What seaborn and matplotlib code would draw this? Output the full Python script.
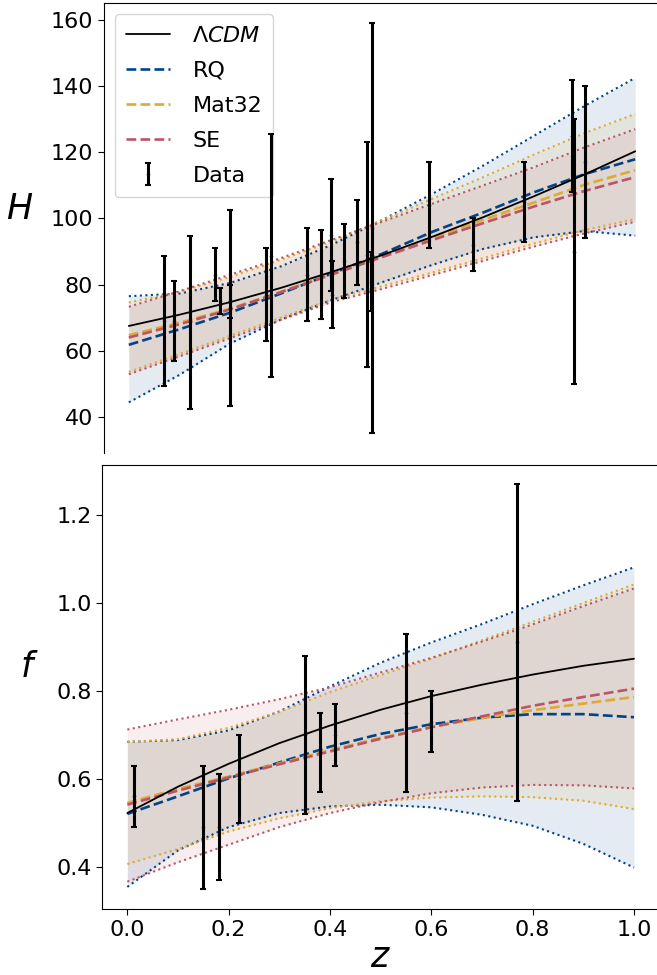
import numpy as np
import pandas as pd
import matplotlib
matplotlib.use("Agg")
import matplotlib.pyplot as plt
import seaborn as sns

sns.set_style("ticks")
plt.rcParams["font.family"] = ["DejaVu Sans"]
plt.rcParams["mathtext.fontset"] = "dejavusans"
for k in ["text.color", "axes.labelcolor", "xtick.color", "ytick.color", "axes.edgecolor"]:
    plt.rcParams[k] = "black"

# ---------------- data ----------------
z_grid = [0.0, 0.1, 0.2, 0.3, 0.4, 0.5, 0.6, 0.7, 0.8, 0.9, 1.0]

# H(z) panel
H_lcdm = [67.5, 70.9, 74.7, 79.0, 83.8, 88.9, 94.5, 100.4, 106.7, 113.3, 120.3]
H_rq = [61.8, 66.5, 71.5, 77.3, 83.3, 89.3, 96.0, 101.8, 107.9, 113.4, 117.9]
H_rq_lo = [44.4, 52.7, 62.2, 69.4, 75.3, 80.7, 86.0, 90.8, 94.3, 96.2, 94.8]
H_rq_hi = [76.5, 77.3, 80.5, 85.5, 92.0, 99.5, 107.5, 116.0, 125.0, 134.0, 142.5]
H_m32 = [64.7, 68.5, 72.7, 77.8, 83.2, 88.6, 94.2, 99.6, 104.8, 110.2, 114.6]
H_m32_lo = [53.6, 59.0, 64.5, 70.0, 75.5, 79.5, 83.7, 88.0, 92.4, 96.5, 99.8]
H_m32_hi = [74.6, 77.8, 82.3, 87.5, 93.0, 99.5, 106.0, 112.5, 119.3, 125.8, 131.6]
H_se = [64.0, 68.0, 72.5, 77.7, 83.0, 88.3, 93.5, 98.6, 103.6, 108.3, 112.5]
H_se_lo = [52.9, 58.3, 63.8, 69.3, 74.7, 78.7, 82.9, 87.2, 91.5, 95.5, 99.0]
H_se_hi = [73.3, 78.0, 83.0, 88.0, 93.5, 99.0, 104.5, 110.0, 115.5, 121.5, 127.0]

z_H = [0.07, 0.09, 0.12, 0.17, 0.1791, 0.1993, 0.2, 0.27, 0.28, 0.3519, 0.3802,
       0.4, 0.4004, 0.4247, 0.4497, 0.47, 0.4783, 0.48, 0.5929, 0.6797, 0.7812,
       0.8754, 0.88, 0.9]
H_obs = [69, 69, 68.6, 83, 75, 75, 72.9, 77, 88.8, 83, 83, 95, 77, 87.1, 92.8,
         89, 80.9, 97, 104, 92, 105, 125, 90, 117]
H_err = [19.6, 12, 26.2, 8, 4, 5, 29.6, 14, 36.6, 14, 13.5, 17, 10.2, 11.2, 12.9,
         34, 9, 62, 13, 8, 12, 17, 40, 23]

# f(z) panel
f_lcdm = [0.522, 0.582, 0.634, 0.681, 0.721, 0.757, 0.788, 0.814, 0.837, 0.857, 0.873]
f_rq = [0.520, 0.560, 0.601, 0.637, 0.673, 0.702, 0.724, 0.739, 0.747, 0.747, 0.740]
f_rq_lo = [0.354, 0.437, 0.490, 0.522, 0.537, 0.541, 0.535, 0.518, 0.493, 0.452, 0.398]
f_rq_hi = [0.684, 0.688, 0.710, 0.753, 0.810, 0.864, 0.910, 0.952, 0.997, 1.040, 1.081]
f_m32 = [0.545, 0.577, 0.605, 0.635, 0.665, 0.693, 0.718, 0.738, 0.756, 0.771, 0.786]
f_m32_lo = [0.406, 0.440, 0.480, 0.510, 0.533, 0.549, 0.557, 0.560, 0.558, 0.550, 0.531]
f_m32_hi = [0.684, 0.690, 0.716, 0.752, 0.797, 0.836, 0.873, 0.915, 0.957, 1.000, 1.042]
f_se = [0.541, 0.573, 0.603, 0.633, 0.662, 0.691, 0.717, 0.742, 0.766, 0.786, 0.805]
f_se_lo = [0.366, 0.410, 0.450, 0.490, 0.522, 0.547, 0.567, 0.580, 0.586, 0.585, 0.578]
f_se_hi = [0.712, 0.735, 0.757, 0.781, 0.808, 0.842, 0.875, 0.912, 0.951, 0.993, 1.033]

z_f = [0.013, 0.15, 0.18, 0.22, 0.35, 0.38, 0.41, 0.55, 0.60, 0.77]
f_obs = [0.56, 0.49, 0.49, 0.60, 0.70, 0.66, 0.70, 0.75, 0.73, 0.91]
f_err = [0.07, 0.14, 0.12, 0.10, 0.18, 0.09, 0.07, 0.18, 0.07, 0.36]

# ---------------- style ----------------
c_rq = "#004488"
c_m32 = "#DDAA33"
c_se = "#BB5566"

W, Hh = 657, 975
fig = plt.figure(figsize=(W / 100, Hh / 100), dpi=100)
ax1 = fig.add_axes([103.5 / W, (Hh - 453.3) / Hh, 557 / W, 450 / Hh])
ax2 = fig.add_axes([102 / W, (Hh - 909.3) / Hh, 557.3 / W, 444.6 / Hh])

fs_tick = 16
fs_lab = 25


def draw(ax, lcdm, models, zd, yd, ed, legend):
    sns.lineplot(x=z_grid, y=lcdm, ax=ax, color="black", lw=1.3,
                 label=r"$\Lambda CDM$" if legend else None, zorder=5)
    for name, col, mean, lo, hi in models:
        ax.fill_between(z_grid, lo, hi, color=col, alpha=0.1, lw=0)
        sns.lineplot(x=z_grid, y=lo, ax=ax, color=col, lw=1.5, linestyle=":")
        sns.lineplot(x=z_grid, y=hi, ax=ax, color=col, lw=1.5, linestyle=":")
    for name, col, mean, lo, hi in models:
        sns.lineplot(x=z_grid, y=mean, ax=ax, color=col, lw=1.9, linestyle="--",
                     label=name if legend else None, zorder=4)
    ax.errorbar(zd, yd, yerr=ed, fmt=".", color="black", ms=3, elinewidth=2.2,
                capsize=2.5, capthick=1.5, label="Data" if legend else None, zorder=6)
    ax.set_xlim(-0.05, 1.05)
    ax.tick_params(labelsize=fs_tick, length=4, color="black", labelcolor="black")
    if legend:
        ax.legend(loc="upper left", fontsize=fs_tick, labelspacing=0.68,
                  handletextpad=1.0, borderpad=0.5)
    elif ax.get_legend() is not None:
        ax.get_legend().remove()


draw(ax1, H_lcdm,
     [("RQ", c_rq, H_rq, H_rq_lo, H_rq_hi),
      ("Mat32", c_m32, H_m32, H_m32_lo, H_m32_hi),
      ("SE", c_se, H_se, H_se_lo, H_se_hi)],
     z_H, H_obs, H_err, True)
draw(ax2, f_lcdm,
     [("RQ", c_rq, f_rq, f_rq_lo, f_rq_hi),
      ("Mat32", c_m32, f_m32, f_m32_lo, f_m32_hi),
      ("SE", c_se, f_se, f_se_lo, f_se_hi)],
     z_f, f_obs, f_err, False)

ax1.set_ylim(29.0, 165.05)
ax1.set_yticks([40, 60, 80, 100, 120, 140, 160])
ax1.set_xticks([])
ax1.spines["bottom"].set_visible(False)
ax1.set_ylabel("$H$", fontsize=fs_lab, rotation=0, ha="center", va="center")
ax1.yaxis.set_label_coords(-0.15, 0.543)

ax2.set_ylim(0.303, 1.3145)
ax2.set_yticks([0.4, 0.6, 0.8, 1.0, 1.2])
ax2.set_xticks([0.0, 0.2, 0.4, 0.6, 0.8, 1.0])
ax2.set_ylabel("$f$", fontsize=fs_lab, rotation=0, ha="center", va="center")
ax2.yaxis.set_label_coords(-0.131, 0.545)
ax2.set_xlabel("$z$", fontsize=fs_lab, labelpad=0)

for ax in (ax1, ax2):
    for s in ax.spines.values():
        s.set_color("black")

fig.savefig("out.png", dpi=100)
